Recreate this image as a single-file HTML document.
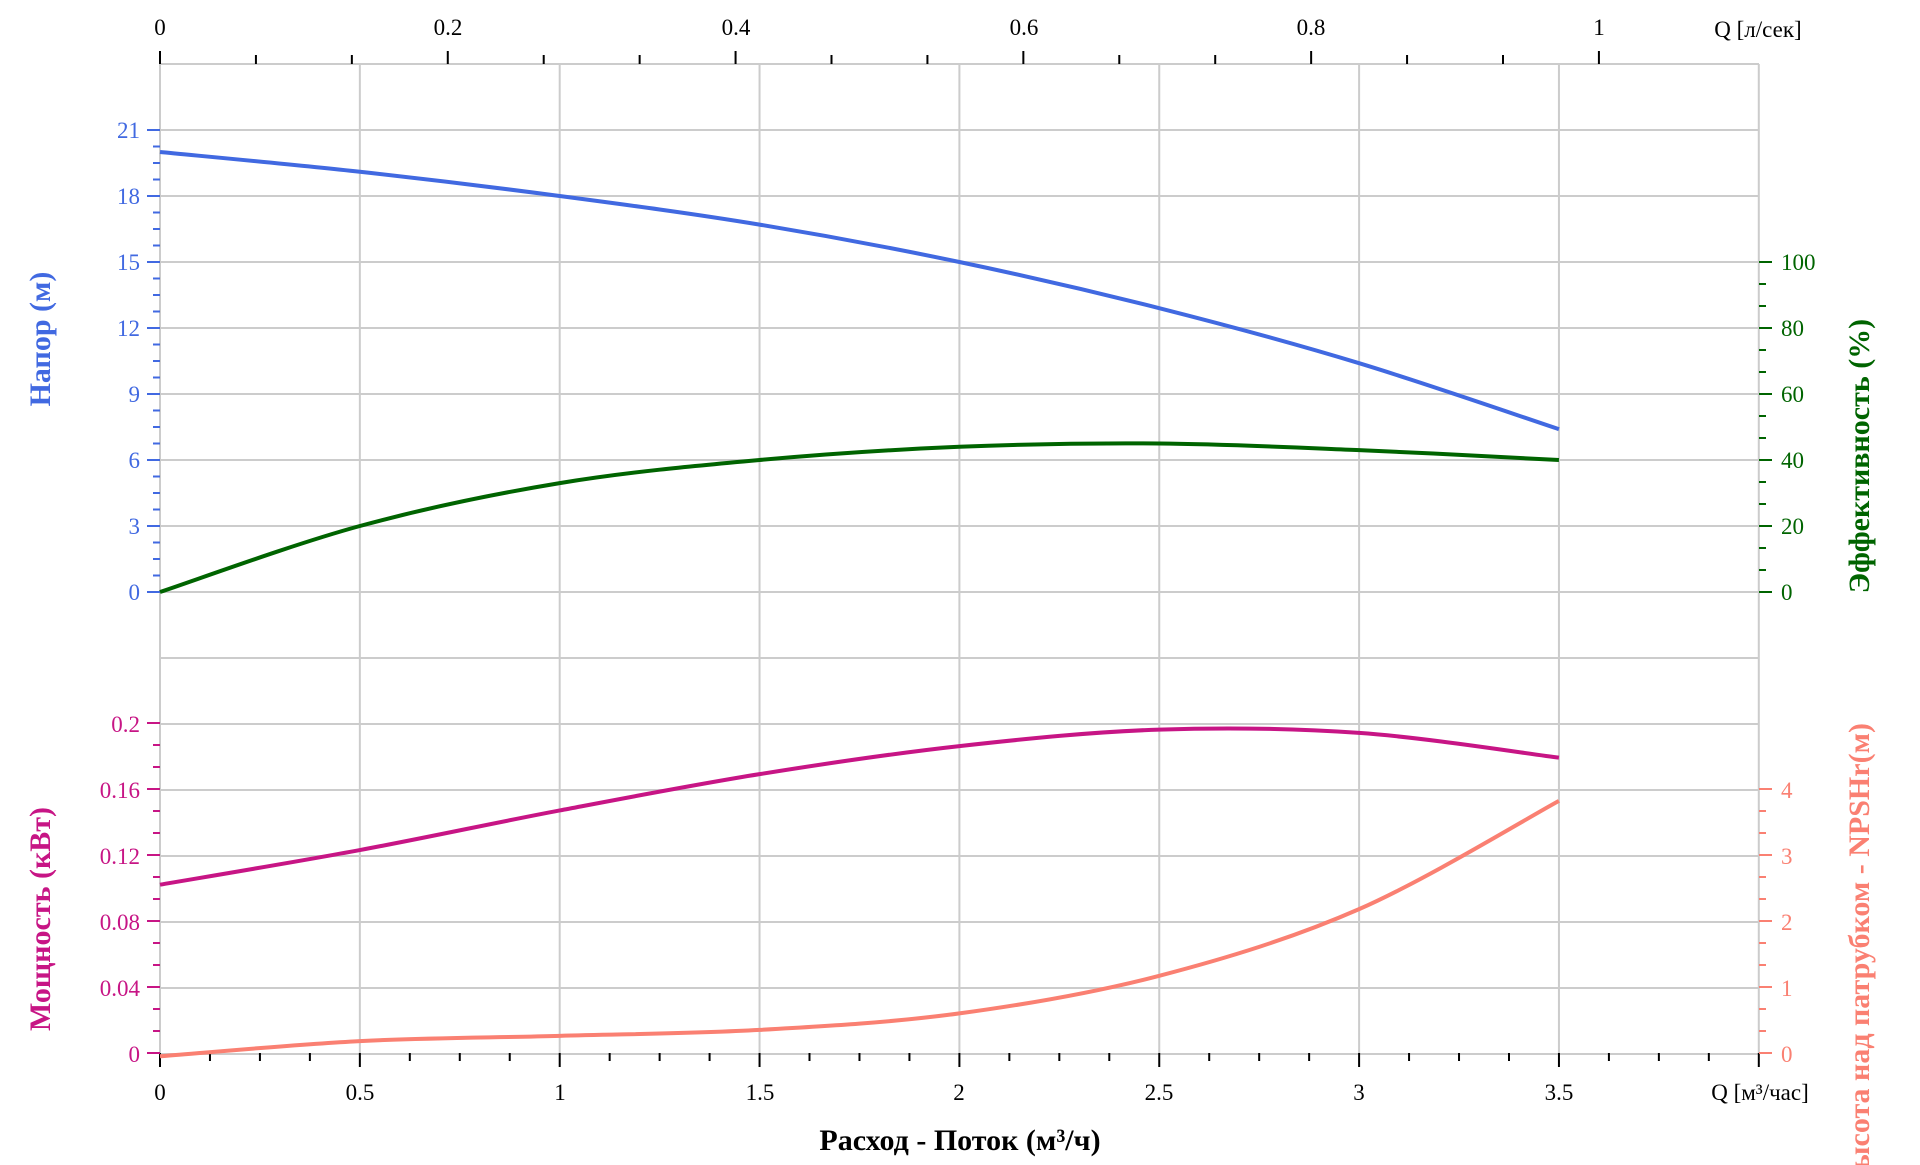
<!DOCTYPE html>
<html><head><meta charset="utf-8"><style>html,body{margin:0;padding:0;background:#fff}svg{display:block}text{font-family:"Liberation Serif",serif}</style></head>
<body>
<svg id="s" width="1920" height="1165" viewBox="0 0 1920 1165" xmlns="http://www.w3.org/2000/svg">
<g id="grid" stroke="#cccccc" stroke-width="2" fill="none"></g>
<g id="ticks" stroke-width="2"></g>
<g id="curves" fill="none" stroke-width="4"></g>
<g font-size="23" fill="#000" text-anchor="middle">
<text x="160" y="35">0</text><text x="448" y="35">0.2</text><text x="736" y="35">0.4</text><text x="1024" y="35">0.6</text><text x="1311" y="35">0.8</text><text x="1599" y="35">1</text>
<text x="1758" y="37">Q [л/сек]</text>
<text x="160" y="1100">0</text><text x="360" y="1100">0.5</text><text x="560" y="1100">1</text><text x="760" y="1100">1.5</text><text x="959" y="1100">2</text><text x="1159" y="1100">2.5</text><text x="1359" y="1100">3</text><text x="1559" y="1100">3.5</text>
<text x="1760" y="1100">Q [м³/час]</text>
</g>
<g font-size="23" fill="#4169E1" text-anchor="end">
<text x="140" y="138">21</text><text x="140" y="204">18</text><text x="140" y="270">15</text><text x="140" y="336">12</text><text x="140" y="402">9</text><text x="140" y="468">6</text><text x="140" y="534">3</text><text x="140" y="600">0</text>
</g>
<g font-size="23" fill="#C71585" text-anchor="end">
<text x="140" y="732">0.2</text><text x="140" y="798">0.16</text><text x="140" y="864">0.12</text><text x="140" y="930">0.08</text><text x="140" y="996">0.04</text><text x="140" y="1062">0</text>
</g>
<g font-size="23" fill="#006400" text-anchor="start">
<text x="1781" y="270">100</text><text x="1781" y="336">80</text><text x="1781" y="402">60</text><text x="1781" y="468">40</text><text x="1781" y="534">20</text><text x="1781" y="600">0</text>
</g>
<g font-size="23" fill="#FA8072" text-anchor="start">
<text x="1781" y="798">4</text><text x="1781" y="864">3</text><text x="1781" y="930">2</text><text x="1781" y="996">1</text><text x="1781" y="1062">0</text>
</g>
<g font-size="30" font-weight="bold" text-anchor="middle">
<text transform="translate(50,339) rotate(-90)" fill="#4169E1">Напор (м)</text>
<text transform="translate(50,919) rotate(-90)" fill="#C71585">Мощность (кВт)</text>
<text transform="translate(1869,456) rotate(-90)" fill="#006400">Эффективность (%)</text>
<text transform="translate(1869,723) rotate(-90)" fill="#FA8072" text-anchor="end">Высота над патрубком - NPSHr(м)</text>
<text x="960" y="1150" fill="#000">Расход - Поток (м³/ч)</text>
</g>
</svg>
<script>
var NS="http://www.w3.org/2000/svg";
function el(p,t,a){var e=document.createElementNS(NS,t);for(var k in a)e.setAttribute(k,a[k]);document.getElementById(p).appendChild(e);return e;}
function X(q){return 160+q*399.7;}
for(var i=0;i<=8;i++){var x=X(i*0.5);el('grid','line',{x1:x,y1:64,x2:x,y2:1053});}
for(var j=0;j<=15;j++){var y=64+j*66;el('grid','line',{x1:160,y1:y,x2:1759,y2:y});}
for(var k=0;k<=15;k++){var q=k*0.0666667*3.6;var x=X(q);if(x>1760)break;var maj=(k%3==0);el('ticks','line',{x1:x,y1:maj?51:55,x2:x,y2:64,stroke:'#000'});}
for(var k=0;k<=32;k++){var x=X(k*0.125);var maj=(k%4==0);el('ticks','line',{x1:x,y1:1053,x2:x,y2:maj?1067:1061,stroke:'#000'});}
for(var k=0;k<=28;k++){var y=592-k*16.5;var maj=(k%4==0);el('ticks','line',{x1:maj?147:153,y1:y,x2:160,y2:y,stroke:'#4169E1'});}
for(var k=0;k<=15;k++){var y=1053-k*22;var maj=(k%3==0);el('ticks','line',{x1:maj?147:153,y1:y,x2:160,y2:y,stroke:'#C71585'});}
for(var k=0;k<=15;k++){var y=592-k*22;var maj=(k%3==0);el('ticks','line',{x1:1759,y1:y,x2:maj?1772:1766,y2:y,stroke:'#006400'});}
for(var k=0;k<=12;k++){var y=1053-k*22;var maj=(k%3==0);el('ticks','line',{x1:1759,y1:y,x2:maj?1772:1766,y2:y,stroke:'#FA8072'});}
function curve(pts,fy,col){
 var n=pts.length;
 for(var i=0;i<n;i++){pts[i]=[X(pts[i][0]),fy(pts[i][1])];}
 var d='M'+pts[0][0]+','+pts[0][1];
 for(var i=0;i<n-1;i++){var p0=pts[Math.max(0,i-1)],p1=pts[i],p2=pts[i+1],p3=pts[Math.min(n-1,i+2)];
  var c1=[p1[0]+(p2[0]-p0[0])/6,p1[1]+(p2[1]-p0[1])/6],c2=[p2[0]-(p3[0]-p1[0])/6,p2[1]-(p3[1]-p1[1])/6];
  d+=' C'+c1+' '+c2+' '+p2;}
 el('curves','path',{d:d,stroke:col});
}
curve([[0,20],[0.5,19.1],[1,18.0],[1.5,16.7],[2,15.0],[2.5,12.9],[3,10.4],[3.5,7.4]],function(v){return 592-v*22;},'#4169E1');
curve([[0,0],[0.5,20],[1,33],[1.5,40],[2,44],[2.5,45],[3,43],[3.5,40]],function(v){return 592-v*3.3;},'#006400');
curve([[0,0.102],[0.5,0.123],[1,0.147],[1.5,0.169],[2,0.186],[2.5,0.196],[3,0.194],[3.5,0.179]],function(v){return 1053-v*1650;},'#C71585');
curve([[0,-0.05],[0.5,0.18],[1,0.26],[1.5,0.35],[2,0.6],[2.5,1.17],[3,2.18],[3.5,3.82]],function(v){return 1053-v*66;},'#FA8072');
</script>
</body></html>
